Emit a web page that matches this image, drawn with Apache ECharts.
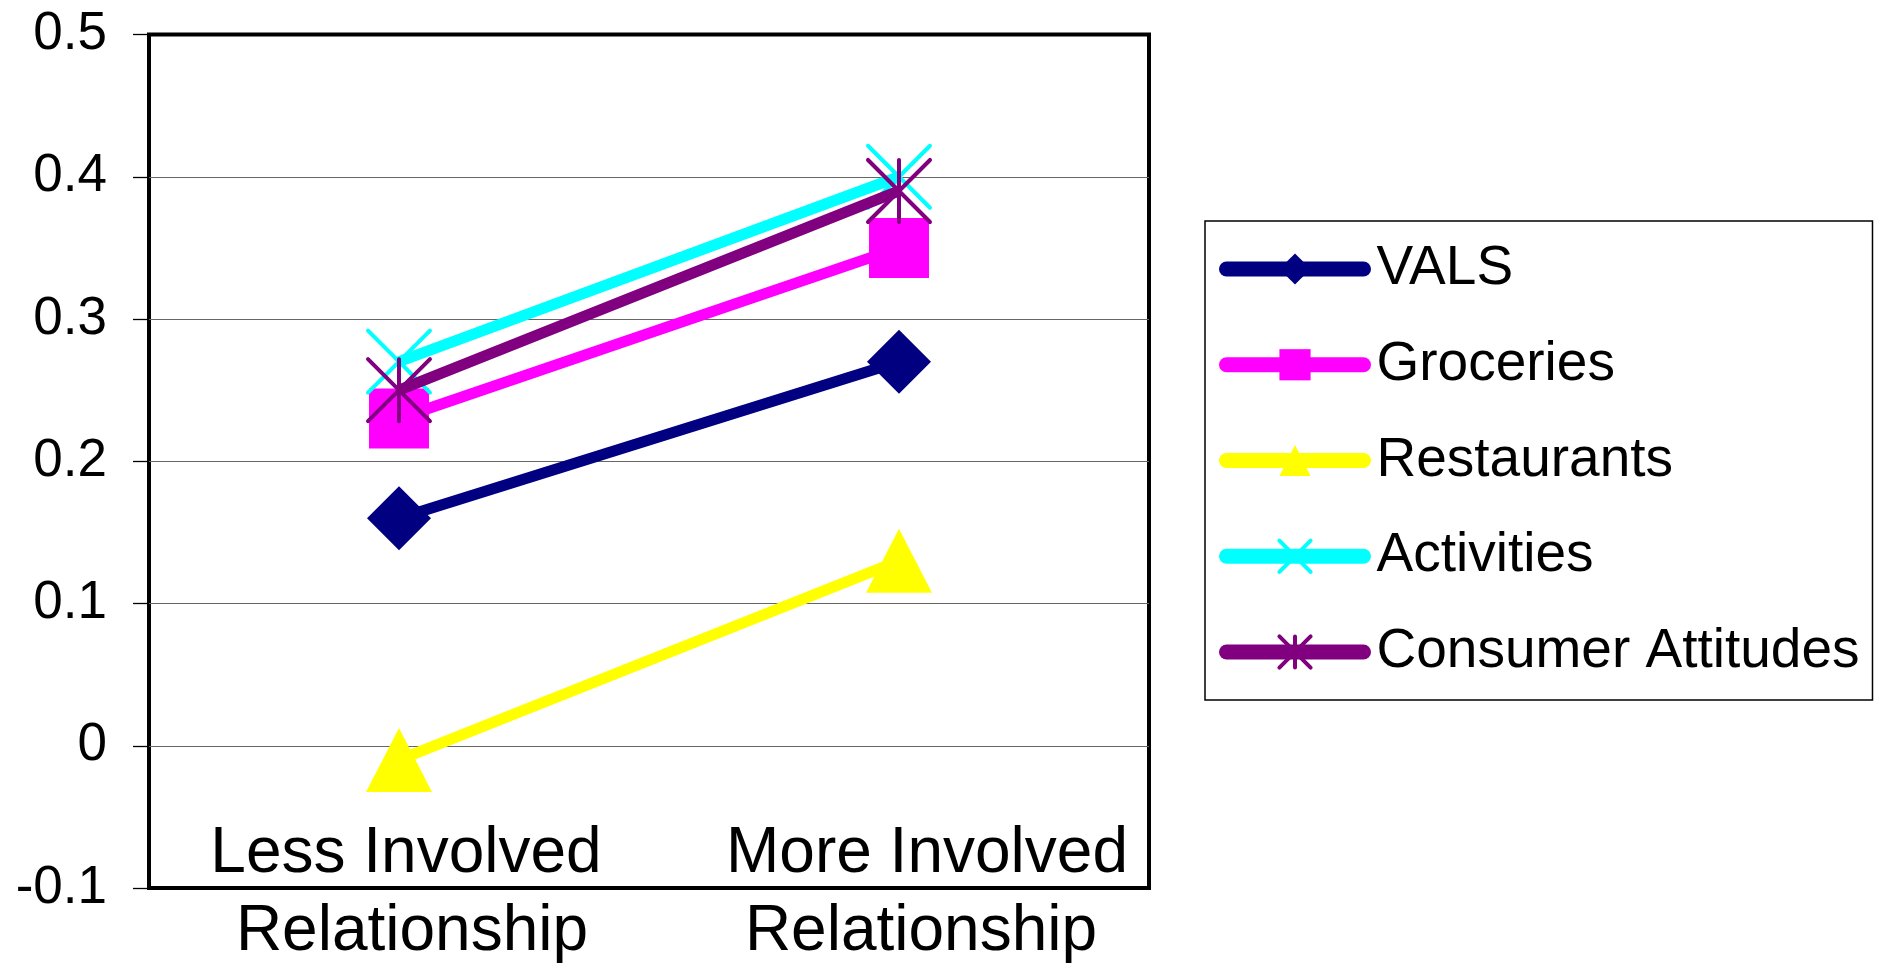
<!DOCTYPE html>
<html>
<head>
<meta charset="utf-8">
<script src="https://cdn.jsdelivr.net/npm/echarts@6/dist/echarts.min.js"></script>
<style>
  html, body { margin: 0; padding: 0; background: #fff; }
  #chart { width: 1881px; height: 965px; }
</style>
</head>
<body>
<div id="chart"></div>
<script>
const categories = ['Less Involved\nRelationship', 'More Involved\nRelationship'];
const seriesNames = ['VALS', 'Groceries', 'Restaurants', 'Activities', 'Consumer Attitudes'];
const valsValues = [0.16, 0.27];
const groceriesValues = [0.23, 0.35];
const restaurantsValues = [-0.01, 0.13];
const activitiesValues = [0.27, 0.40];
const consumerValues = [0.25, 0.39];
const yTicks = [-0.1, 0, 0.1, 0.2, 0.3, 0.4, 0.5];

const FONT = 'Arial, "Liberation Sans", sans-serif';
const X_PATH = 'path://M0,0L10,10M10,0L0,10';
const AST_PATH = 'path://M0,0L10,10M10,0L0,10M5,0L5,10';

const styles = [
  { color: '#000080', symbol: 'diamond', size: 64 },
  { color: '#FF00FF', symbol: 'rect', size: 60 },
  { color: '#FFFF00', symbol: 'triangle', size: [66, 64] },
  { color: '#00FFFF', symbol: X_PATH, size: 62, stroke: true },
  { color: '#800080', symbol: AST_PATH, size: 62, stroke: true }
];
const dataSets = [valsValues, groceriesValues, restaurantsValues, activitiesValues, consumerValues];

const series = seriesNames.map((name, i) => {
  const s = styles[i];
  const itemStyle = { color: s.color };
  if (s.stroke) {
    itemStyle.borderColor = s.color;
    itemStyle.borderWidth = 4;
    itemStyle.borderCap = 'round';
  }
  return {
    name: name,
    type: 'line',
    data: dataSets[i],
    symbol: s.symbol,
    symbolSize: s.size,
    showAllSymbol: true,
    lineStyle: { color: s.color, width: 11 },
    itemStyle: itemStyle,
    emphasis: { disabled: true },
    z: 2 + i
  };
});

const legendData = seriesNames.map((name, i) => {
  const s = styles[i];
  const item = { name: name };
  if (s.stroke) {
    item.itemStyle = { borderColor: s.color, borderWidth: 4, borderCap: 'round' };
  }
  return item;
});

// small per-line horizontal nudges of the category labels (as in the original rendering)
const LH = 78;
const labelRich = {
  a0: { fontFamily: FONT, fontSize: 64, lineHeight: LH, color: '#000', padding: [0, 0, 0, 14] },
  b0: { fontFamily: FONT, fontSize: 64, lineHeight: LH, color: '#000', padding: [0, 0, 0, 26] },
  a1: { fontFamily: FONT, fontSize: 64, lineHeight: LH, color: '#000', padding: [0, 0, 0, 56] },
  b1: { fontFamily: FONT, fontSize: 64, lineHeight: LH, color: '#000', padding: [0, 0, 0, 44] }
};

const chart = echarts.init(document.getElementById('chart'), null, { renderer: 'canvas' });
chart.setOption({
  animation: false,
  backgroundColor: '#ffffff',
  grid: {
    left: 149, top: 34.5, right: 732, bottom: 77,
    show: true, borderColor: '#000', borderWidth: 4, backgroundColor: 'transparent',
    containLabel: false,
    outerBoundsMode: 'none'
  },
  xAxis: {
    type: 'category',
    data: categories,
    boundaryGap: true,
    axisLine: { show: false },
    axisTick: { show: false },
    splitLine: { show: false },
    axisLabel: {
      fontFamily: FONT, fontSize: 64, lineHeight: LH, color: '#000',
      verticalAlign: 'middle', margin: 5.5, interval: 0,
      formatter: (value, index) => {
        const lines = value.split('\n');
        return '{a' + index + '|' + lines[0] + '}\n{b' + index + '|' + lines[1] + '}';
      },
      rich: labelRich
    }
  },
  yAxis: {
    type: 'value',
    min: yTicks[0], max: yTicks[yTicks.length - 1], interval: 0.1,
    axisLine: { show: false },
    axisTick: { show: true, length: 16, lineStyle: { color: '#000', width: 1.3 } },
    splitLine: { show: true, showMinLine: false, showMaxLine: false, lineStyle: { color: '#666', width: 1 } },
    axisLabel: {
      fontFamily: FONT, fontSize: 53, color: '#000', margin: 42,
      formatter: v => String(Number(v.toFixed(1)))
    }
  },
  legend: {
    show: true,
    orient: 'vertical',
    left: 1205, top: 221,
    padding: [20, 13, 20, 14],
    itemGap: 39.75,
    itemWidth: 137,
    itemHeight: 39,
    borderColor: '#000', borderWidth: 1.5,
    backgroundColor: '#fff',
    selectedMode: false,
    lineStyle: { width: 15, cap: 'round' },
    textStyle: { fontFamily: FONT, fontSize: 55, lineHeight: 56, color: '#000', padding: [0, 0, 0, 8] },
    data: legendData
  },
  series: series
});
</script>
</body>
</html>
